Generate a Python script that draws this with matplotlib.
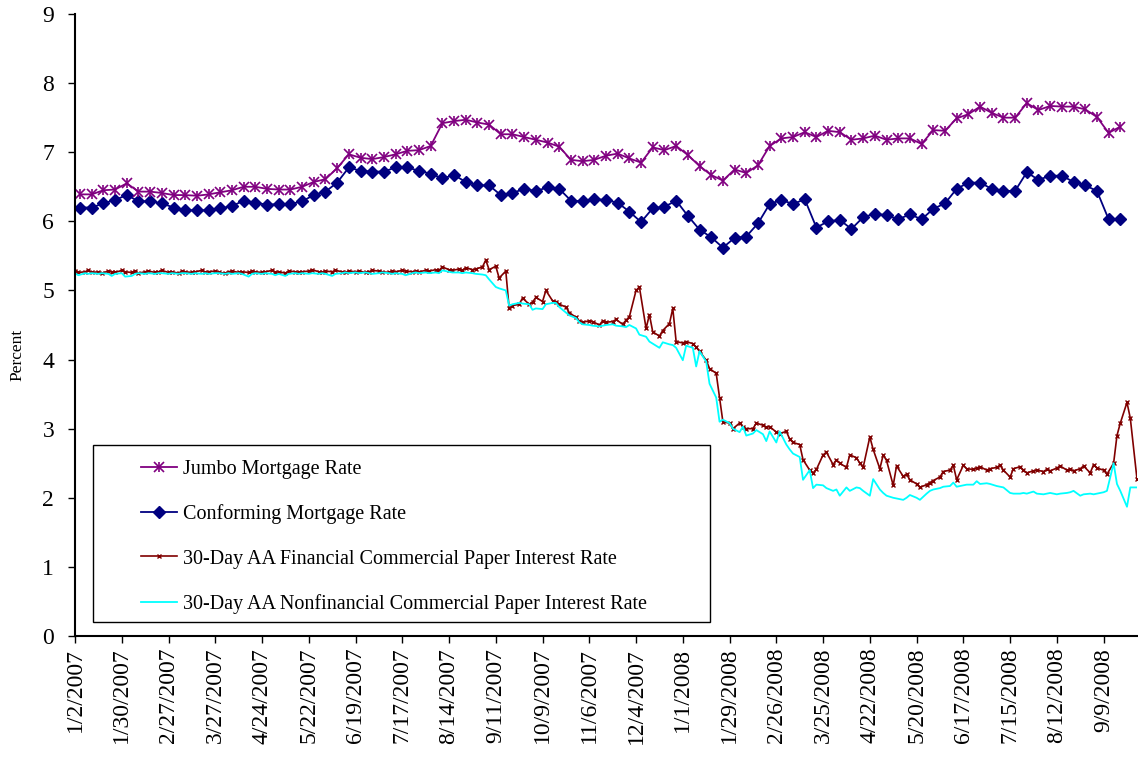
import pandas as pd
import matplotlib
matplotlib.use('Agg')
import matplotlib.pyplot as plt
from matplotlib.patches import Rectangle
from matplotlib.legend_handler import HandlerTuple

plt.rcParams['font.family'] = ['Liberation Serif', 'DejaVu Serif']

# weekly mortgage rates (percent)
jumbo = [6.39, 6.39, 6.45, 6.46, 6.55, 6.43, 6.43, 6.41, 6.38, 6.38,
         6.37, 6.39, 6.42, 6.45, 6.50, 6.50, 6.47, 6.46, 6.46, 6.50,
         6.57, 6.61, 6.77, 6.97, 6.92, 6.90, 6.93, 6.97, 7.02, 7.03,
         7.09, 7.42, 7.45, 7.47, 7.43, 7.40, 7.26, 7.26, 7.22, 7.18,
         7.14, 7.08, 6.89, 6.87, 6.89, 6.95, 6.98, 6.91, 6.85, 7.07,
         7.03, 7.09, 6.96, 6.80, 6.67, 6.59, 6.75, 6.70, 6.81, 7.09,
         7.20, 7.22, 7.29, 7.22, 7.31, 7.29, 7.18, 7.20, 7.24, 7.18,
         7.20, 7.20, 7.12, 7.32, 7.31, 7.49, 7.55, 7.66, 7.57, 7.50,
         7.50, 7.71, 7.61, 7.67, 7.66, 7.66, 7.62, 7.51, 7.28, 7.37]
conforming = [6.20, 6.20, 6.26, 6.31, 6.38, 6.29, 6.29, 6.26, 6.20, 6.16,
              6.16, 6.16, 6.19, 6.22, 6.30, 6.27, 6.24, 6.25, 6.25, 6.29,
              6.38, 6.43, 6.56, 6.78, 6.73, 6.72, 6.72, 6.78, 6.78, 6.73,
              6.69, 6.62, 6.67, 6.57, 6.52, 6.52, 6.38, 6.41, 6.47, 6.44,
              6.49, 6.47, 6.30, 6.29, 6.32, 6.31, 6.27, 6.14, 5.99, 6.19,
              6.21, 6.30, 6.08, 5.88, 5.77, 5.62, 5.76, 5.78, 5.97, 6.25,
              6.31, 6.25, 6.32, 5.91, 6.00, 6.02, 5.89, 6.06, 6.11, 6.09,
              6.03, 6.10, 6.03, 6.18, 6.26, 6.47, 6.56, 6.56, 6.47, 6.44,
              6.44, 6.71, 6.60, 6.66, 6.66, 6.57, 6.52, 6.44, 6.03, 6.03]

# 30-day AA commercial paper (every second business day)
fin_cp = [5.28, 5.26, 5.27, 5.29, 5.26, 5.27, 5.25, 5.28, 5.27, 5.26, 5.29, 5.27, 5.26, 5.28, 5.25, 5.27, 5.28, 5.26, 5.27, 5.29,
          5.26, 5.27, 5.25, 5.28, 5.27, 5.26, 5.27, 5.29, 5.26, 5.27, 5.28, 5.26, 5.25, 5.27, 5.28, 5.26, 5.27, 5.26, 5.28, 5.27,
          5.26, 5.27, 5.29, 5.26, 5.27, 5.25, 5.28, 5.27, 5.26, 5.27, 5.28, 5.30, 5.27, 5.26, 5.28, 5.27, 5.29, 5.27, 5.26, 5.28,
          5.27, 5.28, 5.26, 5.27, 5.29, 5.28, 5.27, 5.26, 5.28, 5.27, 5.29, 5.28, 5.27, 5.28, 5.27, 5.29, 5.28, 5.30, 5.29, 5.34,
          5.30, 5.29, 5.31, 5.29, 5.33, 5.30, 5.31, 5.34, 5.44, 5.30, 5.35, 5.18, 5.28, 4.74, 4.78, 4.80, 4.89, 4.80, 4.83, 4.90,
          4.84, 5.00, 4.85, 4.84, 4.80, 4.76, 4.68, 4.61, 4.56, 4.54, 4.56, 4.55, 4.50, 4.56, 4.54, 4.55, 4.58, 4.51, 4.57, 4.62,
          5.00, 5.05, 4.45, 4.65, 4.40, 4.34, 4.42, 4.52, 4.74, 4.26, 4.24, 4.26, 4.23, 4.18, 4.12, 3.99, 3.87, 3.80, 3.45, 3.10,
          3.08, 3.00, 3.08, 3.03, 3.00, 3.00, 3.08, 3.05, 3.02, 3.03, 2.95, 2.93, 2.96, 2.85, 2.80, 2.77, 2.55, 2.40, 2.36, 2.41,
          2.62, 2.66, 2.48, 2.55, 2.50, 2.44, 2.62, 2.58, 2.50, 2.44, 2.88, 2.70, 2.42, 2.62, 2.54, 2.18, 2.46, 2.31, 2.34, 2.26,
          2.20, 2.15, 2.19, 2.22, 2.25, 2.30, 2.38, 2.40, 2.47, 2.26, 2.47, 2.42, 2.41, 2.43, 2.45, 2.40, 2.42, 2.44, 2.47, 2.40,
          2.30, 2.42, 2.45, 2.40, 2.36, 2.39, 2.40, 2.38, 2.41, 2.39, 2.43, 2.46, 2.40, 2.41, 2.39, 2.42, 2.46, 2.36, 2.48, 2.43,
          2.40, 2.34, 2.50, 2.90, 3.08, 3.38, 3.15, 2.27]
nonfin_cp = [5.25, 5.22, 5.25, 5.24, 5.25, 5.24, 5.25, 5.24, 5.21, 5.24, 5.25, 5.20, 5.21, 5.24, 5.25, 5.24, 5.25, 5.24, 5.25, 5.25,
             5.24, 5.25, 5.24, 5.25, 5.25, 5.24, 5.25, 5.24, 5.25, 5.24, 5.25, 5.25, 5.24, 5.25, 5.24, 5.25, 5.24, 5.20, 5.24, 5.25,
             5.24, 5.25, 5.24, 5.22, 5.24, 5.21, 5.24, 5.25, 5.24, 5.25, 5.24, 5.25, 5.24, 5.25, 5.24, 5.21, 5.24, 5.25, 5.26, 5.25,
             5.26, 5.25, 5.26, 5.25, 5.24, 5.25, 5.26, 5.25, 5.24, 5.25, 5.24, 5.22, 5.25, 5.26, 5.25, 5.26, 5.25, 5.26, 5.25, 5.29,
             5.27, 5.26, 5.26, 5.25, 5.26, 5.25, 5.24, 5.23, 5.22, 5.16, 5.05, 5.03, 5.00, 4.78, 4.80, 4.82, 4.81, 4.80, 4.72, 4.74,
             4.73, 4.80, 4.82, 4.82, 4.76, 4.68, 4.64, 4.60, 4.54, 4.51, 4.50, 4.49, 4.48, 4.49, 4.50, 4.51, 4.49, 4.48, 4.47, 4.50,
             4.45, 4.36, 4.33, 4.26, 4.23, 4.17, 4.25, 4.22, 4.21, 4.17, 3.99, 4.20, 4.17, 3.90, 4.12, 3.97, 3.65, 3.45, 3.10, 3.13,
             3.08, 3.00, 2.95, 3.03, 2.90, 2.93, 2.98, 2.92, 2.82, 2.96, 2.80, 2.96, 2.77, 2.70, 2.64, 2.59, 2.26, 2.40, 2.14, 2.19,
             2.18, 2.14, 2.10, 2.12, 2.03, 2.15, 2.10, 2.15, 2.14, 2.10, 2.03, 2.27, 2.12, 2.07, 2.03, 2.00, 1.99, 1.97, 2.00, 2.04,
             2.00, 1.97, 2.06, 2.10, 2.12, 2.14, 2.16, 2.17, 2.22, 2.16, 2.18, 2.19, 2.19, 2.24, 2.20, 2.21, 2.20, 2.17, 2.16, 2.15,
             2.07, 2.06, 2.06, 2.07, 2.06, 2.09, 2.06, 2.05, 2.06, 2.07, 2.05, 2.06, 2.07, 2.08, 2.10, 2.03, 2.05, 2.06, 2.05, 2.06,
             2.08, 2.10, 2.50, 2.20, 2.10, 1.87, 2.15, 2.15]

labels = ["Jumbo Mortgage Rate",
          "Conforming Mortgage Rate",
          "30-Day AA Financial Commercial Paper Interest Rate",
          "30-Day AA Nonfinancial Commercial Paper Interest Rate"]

mortgage_dates = pd.date_range('2007-01-05', periods=len(jumbo), freq='7D')
cp_dates = pd.date_range('2007-01-02', periods=len(fin_cp), freq='2B')
tick_dates = pd.date_range('2007-01-02', '2008-09-09', freq='28D')

fig = plt.figure(figsize=(11.38, 7.61), dpi=100)
ax = fig.add_axes([75/1138, 125/761, 1062/1138, 622/761])

fl, = ax.plot(cp_dates, fin_cp, color='#800000', lw=1.2, marker='x', ms=3.5, mew=1)
nl, = ax.plot(cp_dates, nonfin_cp, color='#00FFFF', lw=1.3)
cl, = ax.plot(mortgage_dates, conforming, color='#000080', lw=1.3, marker='D', ms=6.5)
jl, = ax.plot(mortgage_dates, jumbo, color='#800080', lw=1.3, marker='x', ms=7, mew=1.2)
jb, = ax.plot(mortgage_dates, jumbo, ls='none', color='#800080', marker='|', ms=7, mew=1.2)

ax.set_ylim(0, 9)
ax.set_yticks(range(10))
ax.set_xlim(pd.Timestamp('2007-01-02'), pd.Timestamp('2008-09-29'))
ax.set_xticks(tick_dates)
ax.set_xticklabels([f"{d.month}/{d.day}/{d.year}" for d in tick_dates], rotation=90)
ax.tick_params(axis='both', direction='out', length=5, width=1, labelsize=17, colors='black')
ax.tick_params(axis='y', pad=10)
ax.set_ylabel("Percent", fontsize=12.5)
ax.yaxis.set_label_coords(-0.047, 0.452)

for s in ['top', 'right']:
    ax.spines[s].set_visible(False)
for s in ['left', 'bottom']:
    ax.spines[s].set_linewidth(1.5)

ax.add_patch(Rectangle((0.017, 0.0225), 0.581, 0.2845, transform=ax.transAxes,
                       facecolor='white', edgecolor='black', lw=1, zorder=4))
leg = ax.legend([(jl, jb), cl, fl, nl], labels,
                handler_map={tuple: HandlerTuple(ndivide=1)},
                loc='upper left', bbox_to_anchor=(0.0527, 0.299),
                frameon=False, borderpad=0, handlelength=1.8,
                handletextpad=0.3, labelspacing=1.25, fontsize=14.5)
leg.set_zorder(5)

fig.savefig('out.png', dpi=100)
